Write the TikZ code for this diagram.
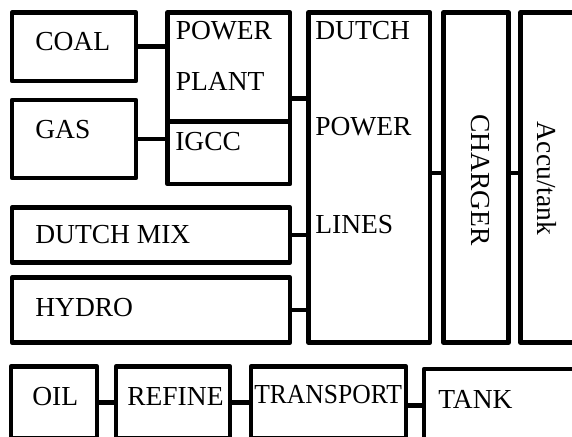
\documentclass[tikz,border=0pt]{standalone}
\usepackage{fontspec}
\setmainfont{Liberation Serif}
\usetikzlibrary{calc}
\begin{document}
\begin{tikzpicture}[x=1pt,y=-1pt,line width=4.6pt,line join=round,
  box/.style={draw,rectangle,inner sep=0pt,outer sep=0pt,anchor=north west},
  txt/.style={inner sep=0pt,anchor=base west,font=\fontsize{27.5}{33}\selectfont}]
  \clip (0,0) rectangle (572,436);
  \node[box,minimum width=124pt,minimum height=68.5pt] (coal) at (12,12.5) {};
  \node[box,minimum width=124pt,minimum height=78pt] (gas) at (12,100) {};
  \node[box,minimum width=122.5pt,minimum height=109pt] (plant) at (167.5,12.5) {};
  \node[box,minimum width=122.5pt,minimum height=62.5pt] (igcc) at (167.5,121.5) {};
  \node[box,minimum width=278pt,minimum height=55pt] (mix) at (12,207.5) {};
  \node[box,minimum width=278pt,minimum height=65pt] (hydro) at (12,277.5) {};
  \node[box,minimum width=121.5pt,minimum height=330pt] (lines) at (308.5,12.5) {};
  \node[box,minimum width=65pt,minimum height=330pt] (charger) at (443.5,12.5) {};
  \node[box,minimum width=80pt,minimum height=330pt] (accu) at (520.5,12.5) {};
  \node[box,minimum width=86pt,minimum height=71.5pt] (oil) at (11,366.5) {};
  \node[box,minimum width=114pt,minimum height=71.5pt] (refine) at (116,366.5) {};
  \node[box,minimum width=155pt,minimum height=71.5pt] (transport) at (251,366.5) {};
  \node[box,minimum width=176pt,minimum height=73pt] (tank) at (424,369) {};

  \node[txt] (coaltxt) at (33,50.7) {COAL};
  \node[txt] (gastxt) at (33,138.3) {GAS};
  \node[txt] (plant1) at (173.5,39.3) {POWER};
  \node[txt] (plant2) at (173.5,90) {PLANT};
  \node[txt] (igcctxt) at (173,150) {IGCC};
  \node[txt] (mixtxt) at (33,243.3) {DUTCH MIX};
  \node[txt] (hydrotxt) at (33,316.7) {HYDRO};
  \node[txt] (lines1) at (313,40) {DUTCH};
  \node[txt] (lines2) at (313,135) {POWER};
  \node[txt] (lines3) at (313,233.3) {LINES};
  \node[txt,anchor=center,rotate=-90] (chargertxt) at (480,180) {CHARGER};
  \node[txt,anchor=center,rotate=-90] (accutxt) at (547,178.5) {Accu/tank};
  \node[txt] (oiltxt) at (30,405) {OIL};
  \node[txt] (refinetxt) at (125,405) {REFINE};
  \node[txt] (transporttxt) at (252,403.3) {\scalebox{0.93}[1]{TRANSPORT}};
  \node[txt] (tanktxt) at (436,408.3) {TANK};

  \draw (coal.east) -- (plant.west |- coal.east);
  \draw (gas.east) -- (igcc.west |- gas.east);
  \draw ($(plant.north east)!0.5!(igcc.south east)$) -- (lines.west |- {$(plant.north east)!0.5!(igcc.south east)$});
  \draw (mix.east) -- (lines.west |- mix.east);
  \draw (hydro.east) -- (lines.west |- hydro.east);
  \draw ([yshift=4.5pt]lines.east) -- ([yshift=4.5pt]charger.west);
  \draw ([yshift=4.5pt]charger.east) -- ([yshift=4.5pt]accu.west);
  \draw (oil.east) -- (refine.west);
  \draw (refine.east) -- (transport.west);
  \draw (transport.east |- tank.west) -- (tank.west);
\end{tikzpicture}
\end{document}
